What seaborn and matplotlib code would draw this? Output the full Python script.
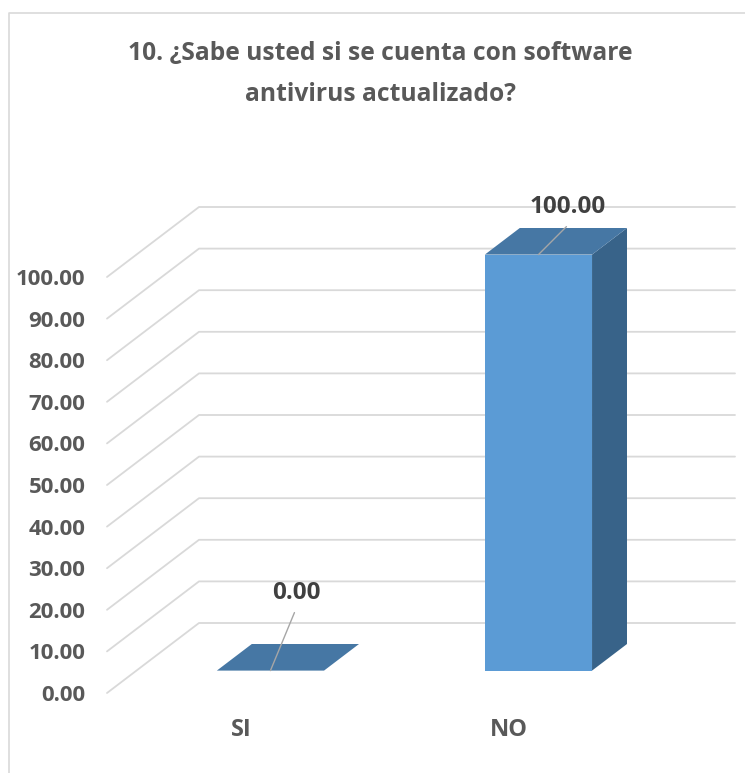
import numpy as np
import matplotlib
matplotlib.use("Agg")
import matplotlib.pyplot as plt
import matplotlib.transforms as mtransforms
from matplotlib.patches import Polygon
from matplotlib.lines import Line2D
import seaborn as sns

# Survey answers (percent)
categories = ["SI", "NO"]
values = [0.00, 100.00]
tick_values = [0, 10, 20, 30, 40, 50, 60, 70, 80, 90, 100]
title = "10. ¿Sabe usted si se cuenta con software\nantivirus actualizado?"

sns.set_theme(style="white")
plt.rcParams["font.family"] = ["Open Sans", "DejaVu Sans"]

W, H, DPI = 745, 773, 100
fig = plt.figure(figsize=(W / DPI, H / DPI), dpi=DPI)

# front plane of the oblique 3-D box, in pixels
ax = fig.add_axes([107 / W, 80 / H, 536 / W, 416 / H])

FRONT = "#5B9BD5"
TOP = "#4677A4"
SIDE = "#386389"
GRID = "#D9D9D9"
AXTXT = "#595959"
LBLTXT = "#404040"

# depth vector of the floor (pixels) and depth fractions of the bars
DX, DY = 92.0, 70.0
F0, F1 = 0.32, 0.70

sns.barplot(x=categories, y=values, width=0.4, color=FRONT,
            saturation=1, ax=ax, zorder=3)
ax.set_xlim(-0.5, 1.5)
ax.set_ylim(0, 100)
for s in ax.spines.values():
    s.set_visible(False)
ax.grid(False)

ident = mtransforms.IdentityTransform()


def proj(x, v, d):
    px, py = ax.transData.transform((x, v))
    return px + d * DX, py + d * DY


def add_poly(pts, color, z):
    ax.add_patch(Polygon(pts, closed=True, transform=ident, facecolor=color,
                         edgecolor="none", zorder=z, clip_on=False))


# back-wall and side-wall gridlines
x_lo, x_hi = ax.get_xlim()
for t in tick_values:
    p0 = proj(x_lo, t, 0)
    p1 = proj(x_lo, t, 1)
    p2 = proj(x_hi, t, 1)
    ax.add_line(Line2D([p0[0], p1[0], p2[0]], [p0[1], p1[1], p2[1]],
                       transform=ident, color=GRID, lw=1.3, zorder=1,
                       clip_on=False))

# shift front faces into depth and add top / side faces
bars = list(ax.patches[:len(values)])
shift = mtransforms.Affine2D().translate(F0 * DX, F0 * DY)
for patch, v in zip(bars, values):
    patch.set_transform(ax.transData + shift)
    patch.set_clip_on(False)
    patch.set_edgecolor("none")
    x0 = patch.get_x()
    x1 = x0 + patch.get_width()
    top = [proj(x0, v, F0), proj(x1, v, F0), proj(x1, v, F1), proj(x0, v, F1)]
    side = [proj(x1, 0, F0), proj(x1, v, F0), proj(x1, v, F1), proj(x1, 0, F1)]
    if v > 0:
        add_poly(side, SIDE, 4)
    add_poly(top, TOP, 4)

# data labels with leader lines (pixel offsets from the bar's front top edge)
label_offsets = [(26, 78), (29, 48)]
leader_offsets = [(24, 58), (28, 28)]
for patch, v, lo, ld in zip(bars, values, label_offsets, leader_offsets):
    xc = patch.get_x() + patch.get_width() / 2
    bx, by = proj(xc, v, F0)
    ax.add_line(Line2D([bx, bx + ld[0]], [by, by + ld[1]], transform=ident,
                       color="#A6A6A6", lw=1.0, zorder=5, clip_on=False))
    fig.text((bx + lo[0]) / W, (by + lo[1]) / H, f"{v:.2f}", ha="center",
             va="center", fontsize=17.5, fontweight="bold", color=LBLTXT)

ax.set_yticks(tick_values)
ax.set_yticklabels([f"{t:.2f}" for t in tick_values], fontsize=16,
                   fontweight="bold", color=AXTXT)
ax.tick_params(axis="y", length=0, pad=15.5)
ax.tick_params(axis="x", length=0, pad=18, labelsize=17, labelcolor=AXTXT)
for lab in ax.get_xticklabels():
    lab.set_fontweight("bold")

fig.text(380 / W, 1 - 41 / H, title, ha="center", va="top", fontsize=17.7,
         fontweight="bold", color=AXTXT, linespacing=1.85)

# chart border (left and top edges)
fig.add_artist(Line2D([8.5, 8.5, W], [0, H - 12.5, H - 12.5], transform=ident,
                      color=GRID, lw=1.2))

fig.savefig("out.png", dpi=DPI)
